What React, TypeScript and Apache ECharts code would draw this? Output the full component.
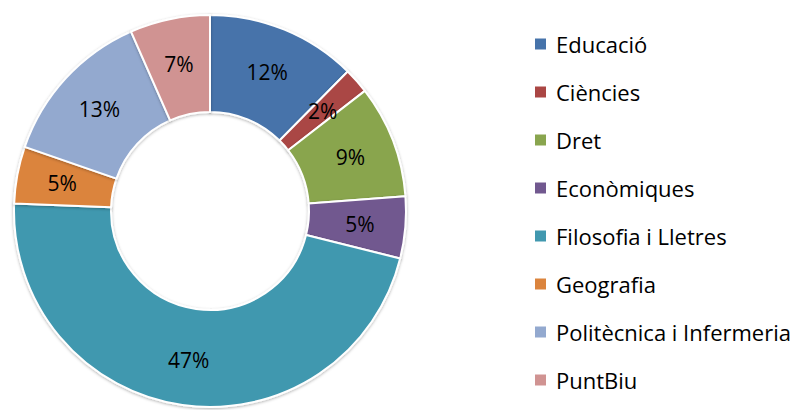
import React, { useEffect, useRef } from "react";
import * as echarts from "echarts";

const categories = [
  "Educació",
  "Ciències",
  "Dret",
  "Econòmiques",
  "Filosofia i Lletres",
  "Geografia",
  "Politècnica i Infermeria",
  "PuntBiu",
];
const values = [12.4, 2.1, 9.3, 5.1, 46.7, 4.7, 13.1, 6.6];
const colors = [
  "#4673AA",
  "#AA4644",
  "#89A54E",
  "#71588F",
  "#4198AF",
  "#DB843D",
  "#93A9CF",
  "#D09392",
];

const FONT = "'Open Sans', sans-serif";

export default function App() {
  const ref = useRef<HTMLDivElement>(null);
  useEffect(() => {
    if (!ref.current) return;
    const chart = echarts.init(ref.current, null, { renderer: "svg" });
    chart.setOption({
      animation: false,
      backgroundColor: "#ffffff",
      color: colors,
      legend: {
        orient: "vertical",
        left: 528,
        top: 28,
        itemWidth: 13,
        itemHeight: 13,
        itemGap: 26,
        icon: "rect",
        textStyle: {
          fontFamily: FONT,
          fontSize: 22,
          color: "#000",
          lineHeight: 22,
          padding: [0, 0, 0, 4],
        },
        data: categories,
      },
      series: [
        {
          type: "pie",
          center: [210, 211],
          radius: [99, 196],
          startAngle: 90,
          clockwise: true,
          avoidLabelOverlap: false,
          itemStyle: {
            borderColor: "#ffffff",
            borderWidth: 2,
            shadowBlur: 3,
            shadowColor: "rgba(0,0,0,0.3)",
            shadowOffsetY: 1,
          },
          label: {
            show: true,
            position: "inside",
            fontFamily: FONT,
            fontSize: 21,
            color: "#000",
            formatter: (p: any) => Math.round(p.percent) + "%",
          },
          labelLine: { show: false },
          emphasis: { disabled: true },
          data: categories.map((c, i) => ({ name: c, value: values[i] })),
        },
      ],
    });
    return () => chart.dispose();
  }, []);
  return (
    <div
      ref={ref}
      style={{ position: "absolute", left: 0, top: 0, width: 805, height: 410 }}
    />
  );
}
